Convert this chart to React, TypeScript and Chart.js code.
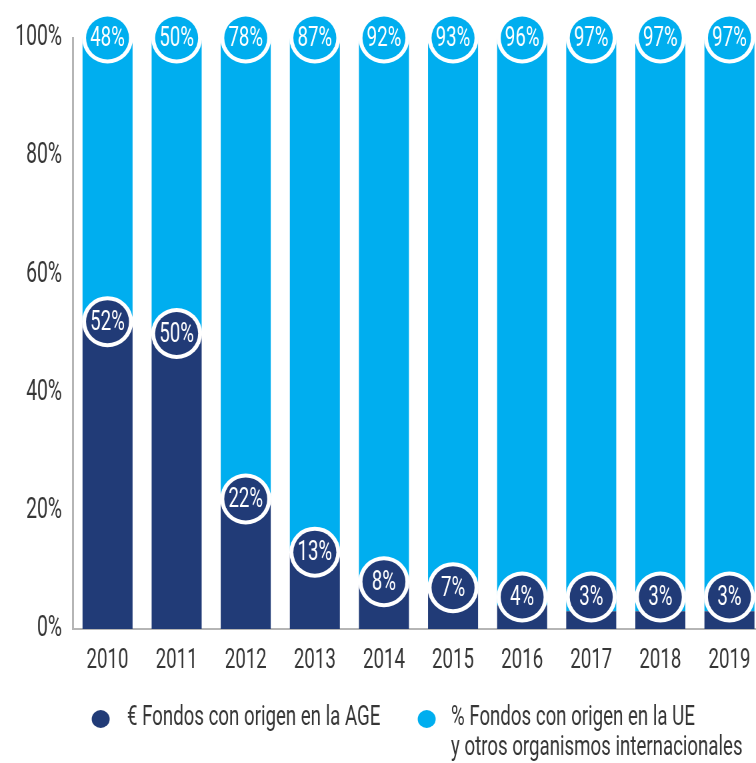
import React, { useEffect, useRef } from "react";
import { Chart, registerables } from "chart.js";

Chart.register(...registerables);

const years = ["2010", "2011", "2012", "2013", "2014", "2015", "2016", "2017", "2018", "2019"];
const ageShare = [52, 50, 22, 13, 8, 7, 4, 3, 3, 3];
const ueShare = [48, 50, 78, 87, 92, 93, 96, 97, 97, 97];
const yTicks = [0, 20, 40, 60, 80, 100];
const seriesLabels = ["€ Fondos con origen en la AGE", "% Fondos con origen en la UE"];
const seriesLabelExtra = ["", "y otros organismos internacionales"];

const NAVY = "#213B77";
const CYAN = "#00AEEF";
const TEXT = "#363636";
const FONT = "Roboto, 'Noto Sans', sans-serif";
// horizontal condensing factor: the canvas is rendered K times wider and shown at 1x width
const K = 1.5;
const CSS_W = 764;
const CSS_H = 763;

const bubblePlugin = {
  id: "bubbles",
  afterDatasetsDraw(chart: any) {
    const ctx = chart.ctx;
    const bottom = chart.chartArea.bottom;
    chart.data.datasets.forEach((ds: any, di: number) => {
      const meta = chart.getDatasetMeta(di);
      meta.data.forEach((el: any, i: number) => {
        const x = el.x;
        const y = Math.min(el.y, bottom - 32);
        ctx.save();
        ctx.beginPath();
        ctx.ellipse(x, y, 25.5 * K, 25.5, 0, 0, Math.PI * 2);
        ctx.fillStyle = "#ffffff";
        ctx.fill();
        ctx.beginPath();
        ctx.ellipse(x, y, 21.5 * K, 21.5, 0, 0, Math.PI * 2);
        ctx.fillStyle = ds.backgroundColor;
        ctx.fill();
        ctx.fillStyle = "#ffffff";
        ctx.font = `400 28px ${FONT}`;
        ctx.textAlign = "center";
        ctx.textBaseline = "middle";
        ctx.fillText(`${ds.data[i]}%`, x, y + 1);
        ctx.restore();
      });
    });
  },
};

const legendPlugin = {
  id: "customLegend",
  afterDraw(chart: any) {
    const ctx = chart.ctx;
    const items = [
      { dotX: 100.7, textX: 127, y: 718 },
      { dotX: 426.7, textX: 451, y: 718 },
    ];
    chart.data.datasets.forEach((ds: any, di: number) => {
      const it = items[di];
      ctx.save();
      ctx.beginPath();
      ctx.ellipse(it.dotX * K, it.y + 1, 9 * K, 9, 0, 0, Math.PI * 2);
      ctx.fillStyle = ds.backgroundColor;
      ctx.fill();
      ctx.fillStyle = TEXT;
      ctx.font = `400 28px ${FONT}`;
      ctx.textAlign = "left";
      ctx.textBaseline = "middle";
      ctx.fillText(ds.label, it.textX * K, it.y);
      if (seriesLabelExtra[di]) ctx.fillText(seriesLabelExtra[di], it.textX * K, it.y + 30);
      ctx.restore();
    });
  },
};

export default function App() {
  const ref = useRef<HTMLCanvasElement | null>(null);
  useEffect(() => {
    if (!ref.current) return;
    const chart = new Chart(ref.current, {
      type: "bar",
      data: {
        labels: years,
        datasets: [
          { label: seriesLabels[0], data: ageShare, backgroundColor: NAVY, borderWidth: 0 },
          { label: seriesLabels[1], data: ueShare, backgroundColor: CYAN, borderWidth: 0 },
        ],
      },
      options: {
        responsive: false,
        animation: false,
        devicePixelRatio: 1,
        layout: { padding: { top: 38, right: 0, bottom: 0, left: 0 } },
        datasets: { bar: { categoryPercentage: 1, barPercentage: 0.724 } },
        plugins: { legend: { display: false }, tooltip: { enabled: false } },
        scales: {
          x: {
            stacked: true,
            grid: { display: false, drawTicks: false },
            border: { display: true, color: "#b5b5b5", width: 2 },
            ticks: { color: TEXT, font: { family: FONT, size: 28, weight: "400" }, padding: 15, maxRotation: 0 },
            afterFit(scale: any) {
              scale.height = 134;
            },
          },
          y: {
            stacked: true,
            min: 0,
            max: 100,
            afterBuildTicks(scale: any) {
              scale.ticks = yTicks.map((v) => ({ value: v }));
            },
            grid: { display: false, drawTicks: false },
            border: { display: true, color: "#b5b5b5", width: 2 * K },
            ticks: {
              color: TEXT,
              font: { family: FONT, size: 29, weight: "400" },
              padding: 11 * K,
              callback: (v: any) => `${v}%`,
            },
            afterFit(scale: any) {
              scale.width = 73 * K;
            },
          },
        },
      },
      plugins: [bubblePlugin, legendPlugin],
    });
    return () => chart.destroy();
  }, []);
  return (
    <div style={{ position: "absolute", left: 0, top: 0, width: 756, height: 763, overflow: "hidden", background: "#fff" }}>
      <canvas
        ref={ref}
        width={Math.round(CSS_W * K)}
        height={CSS_H}
        style={{ width: CSS_W, height: CSS_H, display: "block" }}
      />
    </div>
  );
}
